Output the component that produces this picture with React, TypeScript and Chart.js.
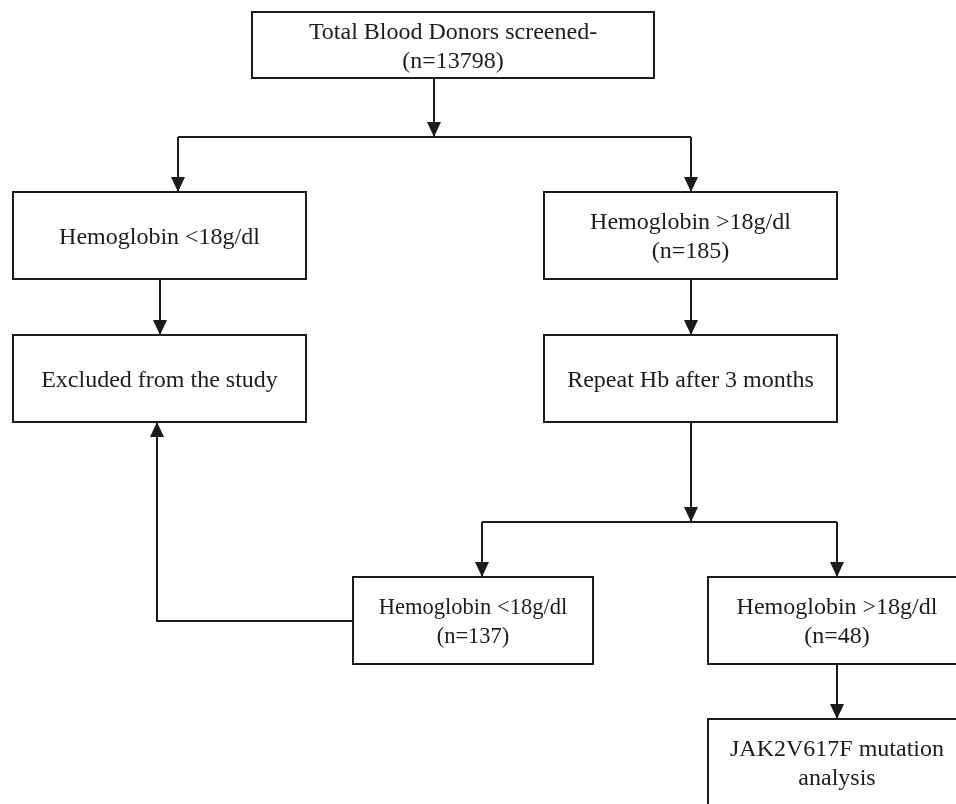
import React, { useEffect, useRef } from "react";
import { Chart, registerables } from "chart.js";

Chart.register(...registerables);

// Box texts (one entry per flowchart box)
const boxLabels: string[][] = [
  ["Total Blood Donors screened-", "(n=13798)"],
  ["Hemoglobin <18g/dl"],
  ["Hemoglobin >18g/dl", "(n=185)"],
  ["Excluded from the study"],
  ["Repeat Hb after 3 months"],
  ["Hemoglobin <18g/dl", "(n=137)"],
  ["Hemoglobin >18g/dl", "(n=48)"],
  ["JAK2V617F mutation", "analysis"],
];
// Box extents in diagram units
const boxLeft = [252, 13, 544, 13, 544, 353, 708, 708];
const boxRight = [654, 306, 837, 306, 837, 593, 966, 966];
const boxTop = [12, 192, 192, 335, 335, 577, 577, 719];
const boxBottom = [78, 279, 279, 422, 422, 664, 664, 806];
const boxFontSize = [24, 24, 24, 24, 24, 22.5, 24, 24];

// Connectors: x list, y list, whether it ends in an arrowhead
const connectorX: number[][] = [
  [434, 434],
  [178, 691],
  [178, 178],
  [691, 691],
  [160, 160],
  [691, 691],
  [691, 691],
  [482, 837],
  [482, 482],
  [837, 837],
  [353, 157, 157],
  [837, 837],
];
const connectorY: number[][] = [
  [78, 137],
  [137, 137],
  [137, 192],
  [137, 192],
  [279, 335],
  [279, 335],
  [422, 522],
  [522, 522],
  [522, 577],
  [522, 577],
  [621, 621, 422],
  [664, 719],
];
const connectorArrow = [true, false, true, true, true, true, true, false, true, true, true, true];

const INK = "#1c1c1c";

const flowPlugin = {
  id: "flowPlugin",
  afterDatasetsDraw(chart: any) {
    const ctx = chart.ctx as CanvasRenderingContext2D;
    const xs = chart.scales.x;
    const ys = chart.scales.y;
    ctx.save();
    // arrowheads
    ctx.fillStyle = INK;
    connectorX.forEach((cx, i) => {
      if (!connectorArrow[i]) return;
      const cy = connectorY[i];
      const n = cx.length;
      const tx = xs.getPixelForValue(cx[n - 1]);
      const ty = ys.getPixelForValue(cy[n - 1]);
      const fx = xs.getPixelForValue(cx[n - 2]);
      const fy = ys.getPixelForValue(cy[n - 2]);
      const ang = Math.atan2(ty - fy, tx - fx);
      const len = 15;
      const hw = 7;
      const bx = tx - len * Math.cos(ang);
      const by = ty - len * Math.sin(ang);
      ctx.beginPath();
      ctx.moveTo(tx, ty);
      ctx.lineTo(bx + hw * Math.sin(ang), by - hw * Math.cos(ang));
      ctx.lineTo(bx - hw * Math.sin(ang), by + hw * Math.cos(ang));
      ctx.closePath();
      ctx.fill();
    });
    // boxes
    ctx.strokeStyle = INK;
    ctx.lineWidth = 2;
    boxLabels.forEach((lines, i) => {
      const l = xs.getPixelForValue(boxLeft[i]);
      const r = xs.getPixelForValue(boxRight[i]);
      const t = ys.getPixelForValue(boxTop[i]);
      const b = ys.getPixelForValue(boxBottom[i]);
      ctx.fillStyle = "#ffffff";
      ctx.fillRect(l, t, r - l, b - t);
      ctx.strokeRect(l, t, r - l, b - t);
      const fs = boxFontSize[i];
      ctx.fillStyle = INK;
      ctx.font = `${fs}px "Liberation Serif", "Times New Roman", serif`;
      ctx.textAlign = "center";
      ctx.textBaseline = "alphabetic";
      const cxp = (l + r) / 2;
      const cyp = (t + b) / 2 + 8;
      const lh = 29;
      const start = cyp - ((lines.length - 1) * lh) / 2;
      lines.forEach((s, k) => ctx.fillText(s, cxp, start + k * lh));
    });
    ctx.restore();
  },
};

export default function App() {
  const ref = useRef<HTMLCanvasElement | null>(null);
  useEffect(() => {
    if (!ref.current) return;
    const chart = new Chart(ref.current, {
      type: "scatter",
      data: {
        datasets: connectorX.map((cx, i) => ({
          data: cx.map((x, k) => ({ x, y: connectorY[i][k] })),
          showLine: true,
          borderColor: INK,
          borderWidth: 2,
          pointRadius: 0,
          pointHoverRadius: 0,
          tension: 0,
          borderJoinStyle: "miter" as const,
          fill: false,
        })),
      },
      options: {
        animation: false,
        responsive: false,
        devicePixelRatio: 1,
        layout: { padding: 0 },
        events: [],
        plugins: { legend: { display: false }, tooltip: { enabled: false } },
        scales: {
          x: { type: "linear", min: 0, max: 956, display: false },
          y: { type: "linear", min: 0, max: 804, reverse: true, display: false },
        },
      },
      plugins: [flowPlugin],
    });
    return () => chart.destroy();
  }, []);
  return (
    <div style={{ position: "fixed", left: 0, top: 0, width: 956, height: 804, background: "#fff" }}>
      <canvas ref={ref} width={956} height={804} />
    </div>
  );
}
